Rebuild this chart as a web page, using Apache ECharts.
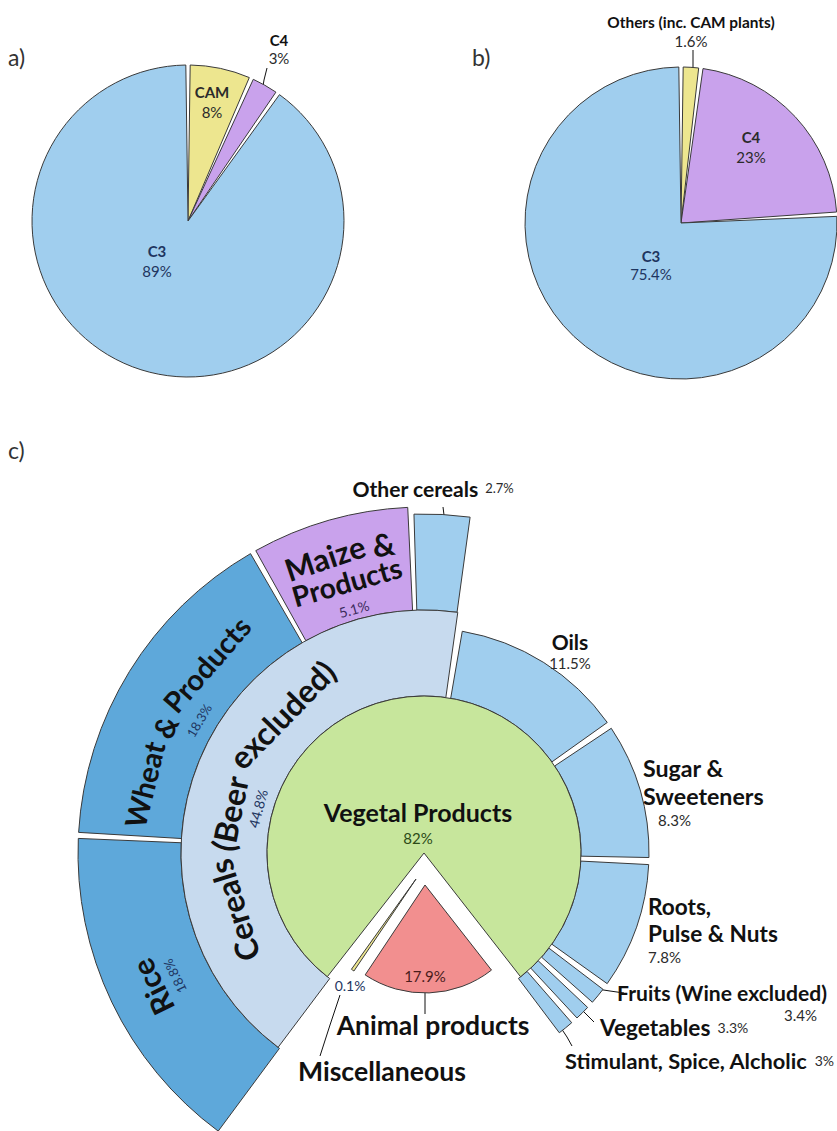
<!DOCTYPE html>
<html>
<head>
<meta charset="utf-8">
<title>Photosynthetic pathways and food supply</title>
<script src="https://cdn.jsdelivr.net/npm/echarts@6.0.0/dist/echarts.min.js"></script>
<style>
  html, body { margin: 0; padding: 0; background: #ffffff; }
  #chart { width: 837px; height: 1131px; }
</style>
</head>
<body>
<div id="chart"></div>
<script>
// a) plant species by photosynthetic pathway
var aNames = ['CAM', 'C4', 'C3'];
var aPct = ['8%', '3%', '89%'];
var aShare = [6.65, 3.1, 90.25];      // slice sizes as drawn, % of the circle

// b) crop production by pathway
var bNames = ['Others (inc. CAM plants)', 'C4', 'C3'];
var bPct = ['1.6%', '23%', '75.4%'];
var bShare = [2.03, 22.07, 75.9];

// c) food supply, inner circle
var topNames = ['Vegetal Products', 'Animal products', 'Miscellaneous'];
var topPct = ['82%', '17.9%', '0.1%'];
var topShare = [78.9, 19.9, 0.44];

// c) middle ring (vegetal groups)
var groupNames = ['Cereals (Beer excluded)', 'Oils', 'Sugar &\nSweeteners', 'Roots,\nPulse & Nuts',
  'Fruits (Wine excluded)', 'Vegetables', 'Stimulant, Spice, Alcholic'];
var groupPct = ['44.8%', '11.5%', '8.3%', '7.8%', '3.4%', '3.3%', '3%'];
var groupShare = [42.47, 12.93, 10.17, 9.54, 1.68, 1.56, 1.63];

// c) outer ring (cereals)
var cerealNames = ['Rice', 'Wheat & Products', 'Maize &\nProducts', 'Other cereals'];
var cerealPct = ['18.8%', '18.3%', '5.1%', '2.7%'];
var cerealShare = [15.81, 15.97, 7.61, 2.92];

var FACE = 'Lato';
var EDGE = '#3a3a3a', INK = '#111111', NAVY = '#1e3560';
var SKY = '#A0CEEE', DEEP = '#5EA8DA', PALE = '#C7DAEE', LILAC = '#C9A2EC',
    SAND = '#EDE68F', LEAF = '#C7E69C', ROSE = '#F28F8F';

var C = [424, 853];   // centre of panel c
var R_LEAF = 157, R_CEREAL = 243, R_GROUP = 225, R_OUT = 346, R_OTHER = 339;

var measure = document.createElement('canvas').getContext('2d');
function textWidth(text, size, weight) {
  measure.font = (weight || 'normal') + ' ' + size + 'px ' + FACE;
  return measure.measureText(text).width;
}
function fitSize(text, width, weight) {
  return Math.round(1000 * width / textWidth(text, 100, weight)) / 10;
}
function sum(a) { return a.reduce(function (s, v) { return s + v; }, 0); }

function blank(v) {
  return { value: v, name: '', itemStyle: { color: 'rgba(0,0,0,0)', borderWidth: 0 },
           label: { show: false }, labelLine: { show: false } };
}

// label text: bold name lines, then the share
function sliceLabel(name, pct, spec) {
  var lines = name.split('\n');
  var size = spec.size || 15;
  if (spec.fit) {
    var longest = lines.slice().sort(function (a, b) {
      return textWidth(b, 100, 'bold') - textWidth(a, 100, 'bold');
    })[0];
    size = Math.round(fitSize(longest, spec.fit, 'bold') * (spec.grow || 1) * 10) / 10;
  }
  var pad = spec.indent || 0;
  var rich = {
    n: { fontFamily: FACE, fontWeight: 'bold', fontSize: size, color: spec.ink || INK,
         lineHeight: spec.lh || Math.round(size * 1.2) },
    p: { fontFamily: FACE, fontSize: spec.pctSize || 14, color: spec.pctInk || '#2b2b2b',
         lineHeight: spec.pctLine || 20, padding: pad >= 0 ? [0, 0, 0, pad] : [0, -pad, 0, 0] }
  };
  var text = lines.map(function (l) { return '{n|' + l + '}'; }).join('\n');
  if (pct) text += spec.inline ? '{p|  ' + pct + '}' : '\n{p|' + pct + '}';
  return { show: true, position: spec.line ? 'outside' : 'inside', formatter: text, rich: rich,
           overflow: 'none', textBorderWidth: 0 };
}

function ring(center, radius, startDeg, pad, data, labelAt) {
  return {
    type: 'pie', center: center, radius: radius,
    startAngle: 90 - startDeg, clockwise: true, padAngle: pad,
    silent: true, animation: false, avoidLabelOverlap: false,
    itemStyle: { borderColor: EDGE, borderWidth: 1 },
    label: { show: false, overflow: 'none', textBorderWidth: 0 },
    labelLine: { show: false, lineStyle: { color: INK, width: 1 } },
    labelLayout: function (p) {
      var s = labelAt && labelAt[p.dataIndex];
      if (!s) return {};
      var o = { x: s.x, y: s.y, align: s.align || 'center', verticalAlign: 'middle' };
      if (s.line) o.labelLinePoints = s.line;
      return o;
    },
    data: data
  };
}

function item(name, value, color, label, spec) {
  var d = { value: value, name: name.replace('\n', ' '), itemStyle: { color: color } };
  if (spec) {
    d.label = sliceLabel(name, label, spec);
    d.labelLine = { show: !!spec.line };
  } else {
    d.label = { show: false };
  }
  return d;
}

// ---------- label placement ----------
var aLabelAt = [
  { x: 212, y: 102, lh: 20, pctSize: 15, ink: '#2b2b2b', pctInk: '#2b2b2b' },
  { x: 279, y: 49, lh: 18, pctSize: 15, ink: INK, pctInk: '#2b2b2b', pctLine: 18,
    line: [[262, 92], [264, 80], [267, 68]] },
  { x: 157, y: 261, lh: 20, pctSize: 15, ink: NAVY, pctInk: NAVY }
];
var bLabelAt = [
  { x: 691, y: 31, fit: 167, lh: 19, pctSize: 15, ink: INK, pctInk: '#2b2b2b', pctLine: 19,
    line: [[693, 72], [693, 61], [693, 50]] },
  { x: 751, y: 147, lh: 20, pctSize: 15, ink: '#2b2b2b', pctInk: '#2b2b2b' },
  { x: 651, y: 265, lh: 18, pctSize: 15, ink: NAVY, pctInk: NAVY, pctLine: 18 }
];
var groupLabelAt = [null,
  { x: 570, y: 651, size: 21, lh: 24, pctSize: 15 },
  { x: 643, y: 792, align: 'left', fit: 112, grow: 1.08, indent: 15, pctSize: 15 },
  { x: 648, y: 930, align: 'left', fit: 120, grow: 1.08, pctSize: 15 },
  { x: 827, y: 1002, align: 'right', fit: 200, grow: 1.05, indent: -10, pctSize: 15,
    line: [[597, 989], [610, 991], [624, 993]] },
  { x: 600, y: 1027, align: 'left', fit: 102, grow: 1.08, inline: true, pctSize: 14,
    line: [[580, 1008], [587, 1015], [594, 1022]] },
  { x: 565, y: 1060, align: 'left', fit: 243, inline: true, pctSize: 14,
    line: [[561, 1028], [567, 1037], [572, 1046]] }
];
var otherLabelAt = [null,
  { x: 433, y: 488, fit: 115, grow: 1.1, inline: true, pctSize: 13, line: [[445, 523], [444, 515], [443, 507]] }];
var leafLabelAt = [{ x: 418, y: 823, fit: 178, grow: 1.06, pctSize: 15, pctInk: '#2c4a17', pctLine: 22 }];
var animalLabelAt = [{ x: 433, y: 1025, fit: 183, grow: 1.05, line: [[425, 993], [425, 1003], [425, 1014]] }];
var miscLabelAt = [{ x: 382, y: 1071, fit: 160, grow: 1.05, line: [[340, 995], [330, 1025], [320, 1056]] }];

// ---------- series ----------
var series = [];

series.push(ring([188, 221], [0, 156], 0, 1.6, aNames.map(function (n, i) {
  return item(n, aShare[i], [SAND, LILAC, SKY][i], aPct[i], aLabelAt[i]);
}), aLabelAt));

series.push(ring([681, 223], [0, 156], 0, 1.6, bNames.map(function (n, i) {
  return item(n, bShare[i], [SAND, LILAC, SKY][i], bPct[i], bLabelAt[i]);
}), bLabelAt));

// outer ring: rice, wheat, maize
var bigCereals = cerealShare.slice(0, 3);
series.push(ring(C, [R_CEREAL, R_OUT], 216, 1.0,
  bigCereals.map(function (v, i) {
    return item(cerealNames[i], v, i === 2 ? LILAC : DEEP);
  }).concat([blank(100 - sum(bigCereals))]), null));

// outer ring: other cereals (slightly shorter)
series.push(ring(C, [R_CEREAL, R_OTHER], 216, 1.0, [
  blank(sum(bigCereals)),
  item(cerealNames[3], cerealShare[3], SKY, cerealPct[3], otherLabelAt[1]),
  blank(100 - sum(cerealShare))
], otherLabelAt));

// middle ring: cereals band
series.push(ring(C, [R_LEAF, R_CEREAL], 216, 1.8, [
  item(groupNames[0], groupShare[0], PALE),
  blank(100 - groupShare[0])
], null));

// middle ring: the other vegetal groups
series.push(ring(C, [R_LEAF, R_GROUP], 216, 1.8,
  [blank(groupShare[0])].concat(groupShare.slice(1).map(function (v, k) {
    var i = k + 1;
    return item(groupNames[i], v, SKY, groupPct[i], groupLabelAt[i]);
  })).concat([blank(100 - sum(groupShare))]), groupLabelAt));

// inner circle: vegetal products
series.push(ring(C, [0, R_LEAF], 218, 0, [
  item(topNames[0], topShare[0], LEAF, topPct[0], leafLabelAt[0]),
  blank(100 - topShare[0])
], leafLabelAt));

// animal products, pulled out of the notch
series.push(ring([C[0] + 1, C[1] + 32], [0, 108], 142, 0, [
  item(topNames[1], topShare[1], ROSE, null, animalLabelAt[0]),
  blank(100 - topShare[1])
], animalLabelAt));

// miscellaneous sliver
series.push(ring([C[0] - 8, C[1] + 26], [0, 111], 214, 0, [
  item(topNames[2], topShare[2], SAND, null, miscLabelAt[0]),
  blank(100 - topShare[2])
], miscLabelAt));

// ---------- text written along the rings ----------
var graphics = [];

function plainText(text, x, y, font, color, align) {
  graphics.push({
    type: 'text', x: x, y: y, z: 50, silent: true,
    style: { text: text, font: font, fill: color, align: align || 'center', verticalAlign: 'middle',
             textAlign: align || 'center', textVerticalAlign: 'middle' }
  });
}

// words set tangentially on a circle of radius r around C, reading clockwise
function arcText(spec) {
  var weight = spec.weight || 'bold';
  var size = spec.size;
  var mid = spec.at;
  if (spec.from != null) {
    var arcLen = spec.r * (spec.to - spec.from) * Math.PI / 180;
    size = Math.round(fitSize(spec.text, arcLen, weight) * (spec.shrink || 1) * 10) / 10;
    mid = (spec.from + spec.to) / 2;
  }
  var font = weight + ' ' + size + 'px ' + FACE;
  var words = spec.text.split(' ');
  var space = textWidth(' ', size, weight);
  var widths = words.map(function (w) { return textWidth(w, size, weight); });
  var pos = -(sum(widths) + space * (words.length - 1)) / 2;
  words.forEach(function (w, i) {
    var a = mid * Math.PI / 180 + (pos + widths[i] / 2) / spec.r;
    graphics.push({
      type: 'text', z: 50, silent: true,
      x: C[0] + spec.r * Math.sin(a), y: C[1] - spec.r * Math.cos(a), rotation: -a,
      style: { text: w, font: font, fill: spec.ink || INK, align: 'center', verticalAlign: 'middle',
               textAlign: 'center', textVerticalAlign: 'middle' }
    });
    pos += widths[i] + space;
  });
}

var maizeLines = cerealNames[2].split('\n');
[
  { text: groupNames[0], r: 198, from: 238, to: 334 },
  { text: groupPct[0], r: 172, at: 285, size: 14, weight: 'normal', ink: NAVY },
  { text: cerealNames[0], r: 303, from: 238, to: 249.5, shrink: 0.95 },
  { text: cerealPct[0], r: 278, at: 243.7, size: 13, weight: 'normal', ink: NAVY },
  { text: cerealNames[1], r: 288, from: 273, to: 324.5, shrink: 0.92 },
  { text: cerealPct[1], r: 261, at: 300.5, size: 13, weight: 'normal', ink: NAVY },
  { text: maizeLines[0], r: 311, from: 333.3, to: 355.1, shrink: 0.95 },
  { text: maizeLines[1], r: 282, from: 332.3, to: 355.9, shrink: 0.97 },
  { text: cerealPct[2], r: 254, at: 344, size: 14, weight: 'normal', ink: '#3b2a5c' }
].forEach(arcText);

plainText(topPct[1], 425, 976, 'normal 15px ' + FACE, '#4a1c1c');
plainText(topPct[2], 350, 985, 'normal 14px ' + FACE, NAVY);

// panel letters
[['a)', 8, 57], ['b)', 472, 57], ['c)', 8, 450]].forEach(function (t) {
  plainText(t[0], t[1], t[2], 'normal 23px ' + FACE, '#333333', 'left');
});

var chart = echarts.init(document.getElementById('chart'), null, { renderer: 'svg' });
chart.setOption({
  animation: false,
  backgroundColor: '#ffffff',
  series: series,
  graphic: { elements: graphics }
});
</script>
</body>
</html>
